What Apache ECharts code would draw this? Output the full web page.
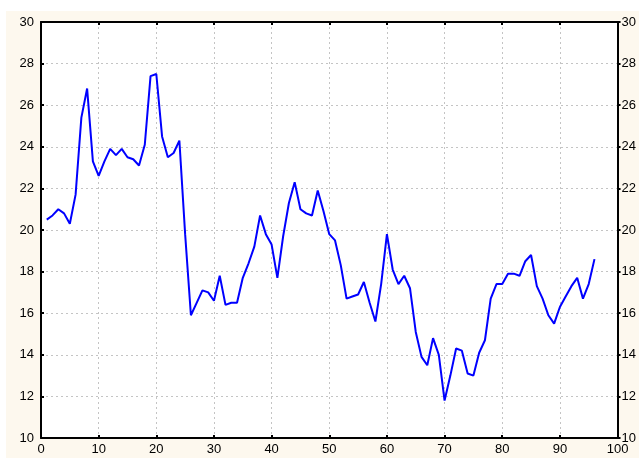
<!DOCTYPE html>
<html>
<head>
<meta charset="utf-8">
<script src="https://cdn.jsdelivr.net/npm/echarts@6/dist/echarts.min.js"></script>
<style>
  html, body { margin: 0; padding: 0; background: #ffffff; }
  #main { position: absolute; left: 6px; top: 11px; width: 633px; height: 447px; background: #fdf8ee; }
</style>
</head>
<body>
<div id="main"></div>
<script>
// x positions of the samples
const xValues = [];
for (let i = 1; i <= 96; i++) xValues.push(i);

// values
const yValues = [
  20.5, 20.7, 21.0, 20.8, 20.3, 21.7, 25.4, 26.8, 23.3, 22.6,
  23.3, 23.9, 23.6, 23.9, 23.5, 23.4, 23.1, 24.1, 27.4, 27.5,
  24.5, 23.5, 23.7, 24.3, 19.8, 15.9, 16.5, 17.1, 17.0, 16.6,
  17.8, 16.4, 16.5, 16.5, 17.7, 18.4, 19.2, 20.7, 19.8, 19.3,
  17.7, 19.7, 21.3, 22.3, 21.0, 20.8, 20.7, 21.9, 20.9, 19.8,
  19.5, 18.3, 16.7, 16.8, 16.9, 17.5, 16.5, 15.6, 17.4, 19.8,
  18.1, 17.4, 17.8, 17.2, 15.1, 13.9, 13.5, 14.8, 14.0, 11.8,
  13.0, 14.3, 14.2, 13.1, 13.0, 14.1, 14.7, 16.7, 17.4, 17.4,
  17.9, 17.9, 17.8, 18.5, 18.8, 17.3, 16.7, 15.9, 15.5, 16.3,
  16.8, 17.3, 17.7, 16.7, 17.4, 18.6
];

const xTicks = [0, 10, 20, 30, 40, 50, 60, 70, 80, 90, 100];
const yTicks = [10, 12, 14, 16, 18, 20, 22, 24, 26, 28, 30];

const chart = echarts.init(document.getElementById('main'));

const labelStyle = { color: '#000', fontFamily: 'Liberation Sans, Arial, sans-serif', fontSize: 13 };
const axisLine = { show: true, onZero: false, lineStyle: { color: '#000', width: 2 } };
const gridLine = { show: true, lineStyle: { color: '#c4c4c4', type: [2, 3], width: 1 } };

chart.setOption({
  animation: false,
  grid: { left: 35, right: 21, top: 11, bottom: 20, show: true, backgroundColor: '#ffffff', borderWidth: 0 },
  xAxis: [
    {
      type: 'value', position: 'bottom', min: 0, max: 100, interval: 10,
      axisLine: axisLine,
      axisTick: { show: true, inside: true, length: 3, lineStyle: { color: '#000', width: 2 } },
      axisLabel: Object.assign({ margin: 5 }, labelStyle),
      splitLine: gridLine
    },
    {
      type: 'value', position: 'top', min: 0, max: 100, interval: 10,
      axisLine: axisLine,
      axisTick: { show: true, inside: true, length: 3, lineStyle: { color: '#000', width: 2 } },
      axisLabel: { show: false },
      splitLine: { show: false }
    }
  ],
  yAxis: [
    {
      type: 'value', position: 'left', min: 10, max: 30, interval: 2,
      axisLine: axisLine,
      axisTick: { show: true, inside: true, length: 3, lineStyle: { color: '#000', width: 2 } },
      axisLabel: Object.assign({ margin: 7 }, labelStyle),
      splitLine: gridLine
    },
    {
      type: 'value', position: 'right', min: 10, max: 30, interval: 2,
      axisLine: axisLine,
      axisTick: { show: true, inside: false, length: 3, lineStyle: { color: '#000', width: 2 } },
      axisLabel: Object.assign({ margin: 4 }, labelStyle),
      splitLine: { show: false }
    }
  ],
  series: [
    {
      type: 'line',
      data: xValues.map((x, i) => [x, yValues[i]]),
      showSymbol: false,
      lineStyle: { color: '#0000ff', width: 2 },
      itemStyle: { color: '#0000ff' }
    }
  ]
});
</script>
</body>
</html>
